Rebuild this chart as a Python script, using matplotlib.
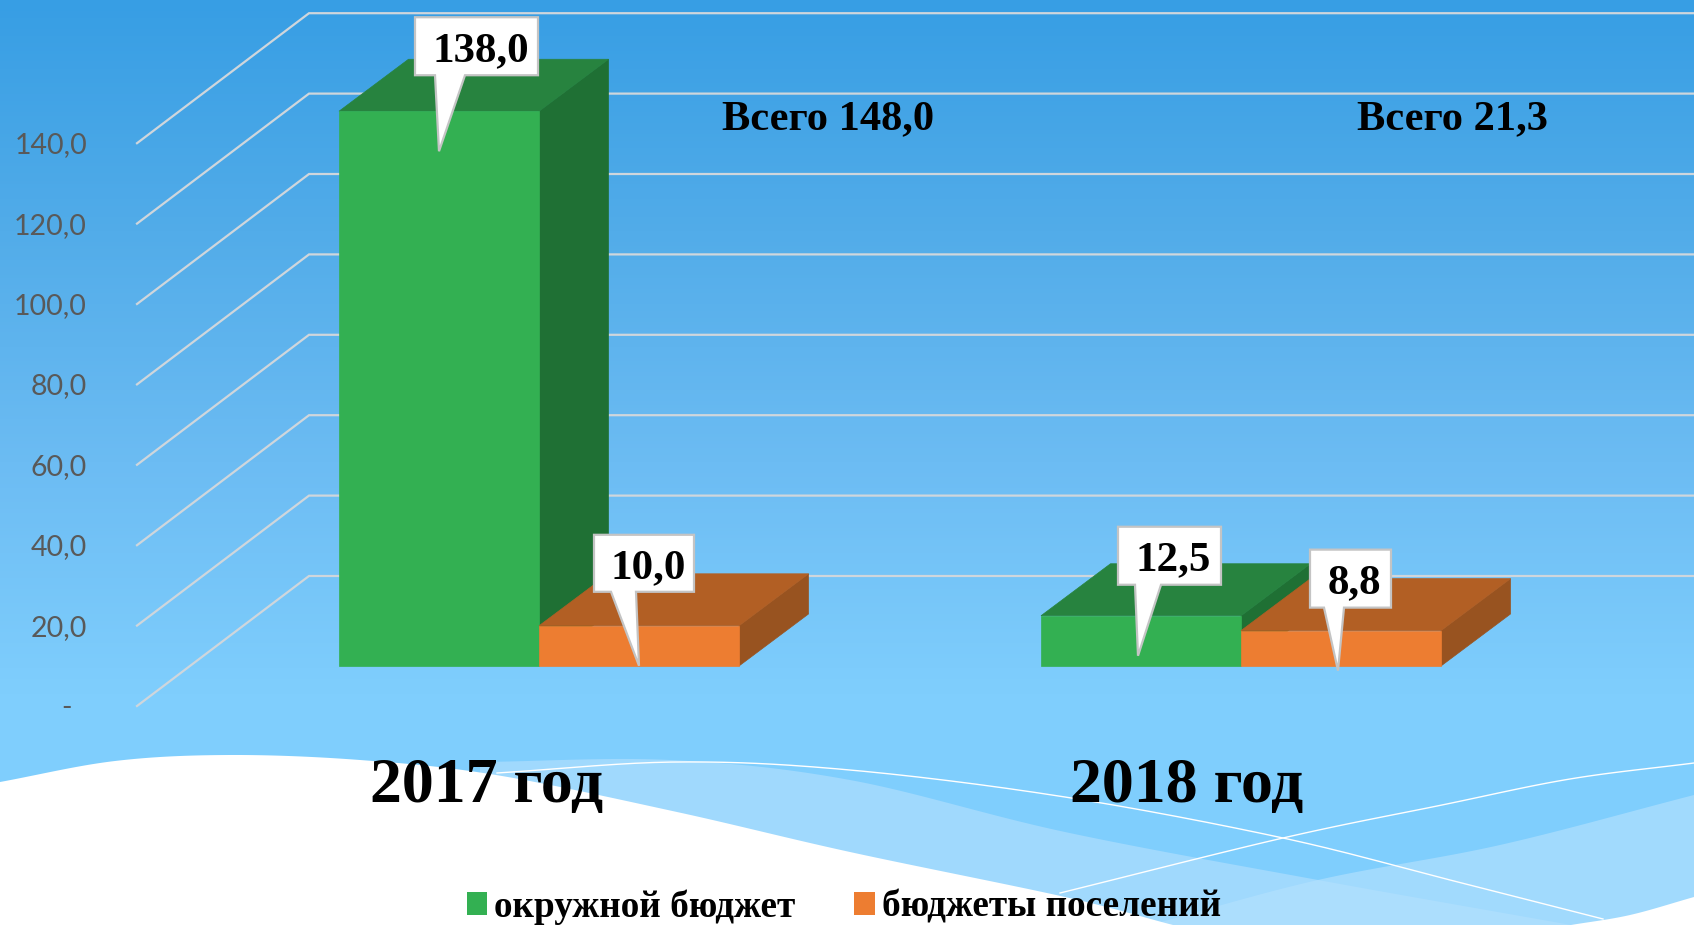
"""
Budget bars 2017/2018, drawn as a fake 3D column chart on a wavy slide background
"""
import numpy as np
import matplotlib
matplotlib.use("Agg")
import matplotlib.pyplot as plt
from matplotlib.colors import LinearSegmentedColormap
from matplotlib.patches import Patch, Polygon

# Data
YEARS = ["2017 год", "2018 год"]
SERIES = ["окружной бюджет", "бюджеты поселений"]
OKRUG = [138.0, 12.5]
POSEL = [10.0, 8.8]
OKRUG_LABELS = ["138,0", "12,5"]
POSEL_LABELS = ["10,0", "8,8"]
TOTALS = ["Всего 148,0", "Всего 21,3"]
TICKS = [0, 20, 40, 60, 80, 100, 120, 140]
TICK_LABELS = ["-", "20,0", "40,0", "60,0", "80,0", "100,0", "120,0", "140,0"]

# Layout, all in pixels of the 1694x925 picture
W, H = 1694, 925
CAT_STEP = 702  # px between categories
UNIT = 4.02  # px per value unit
CAT0_X = 539  # px of the first category centre
BASE_Y = 666  # px of the bars' front bottom edge
BAR_W = 200 / CAT_STEP
TOTAL_DX = [289, 211]  # px from category centre to the "Всего" text
YEAR_DX = [-52, -54]  # px from category centre to the year text

GREEN = ["#33b052", "#27833f", "#1f7034"]
ORANGE = ["#ed7d31", "#b25f24", "#985320"]
SERIF = "Liberation Serif"


def px_x(p):
    return p / CAT_STEP


def px_y(p):
    return p / UNIT


def bar3d(ax, x0, x1, v, colors, z):
    """ front, top and side face of one bar """
    dx, dy = px_x(69.5), px_y(52)
    ax.add_patch(Polygon([(x1, 0), (x1 + dx, dy), (x1 + dx, v + dy), (x1, v)],
                         fc=colors[2], ec=colors[2], lw=0.5, zorder=z))
    ax.add_patch(Polygon([(x0, v), (x1, v), (x1 + dx, v + dy), (x0 + dx, v + dy)],
                         fc=colors[1], ec=colors[1], lw=0.5, zorder=z))
    ax.add_patch(Polygon([(x0, 0), (x1, 0), (x1, v), (x0, v)],
                         fc=colors[0], ec=colors[0], lw=0.5, zorder=z))


def callout(ax, x, v, text, box):
    """ white label with a spike, box = left, right, tail1, tail2, bottom, top in px from the tip """
    left, right, t1, t2, bottom, top = box
    tip = (x, v - px_y(40))
    pts = [(left, top), (right, top), (right, bottom), (t2, bottom), (0, 0), (t1, bottom), (left, bottom)]
    pts = [(tip[0] + px_x(a), tip[1] + px_y(b)) for a, b in pts]
    ax.add_patch(Polygon(pts, fc="white", ec="#c4c4c4", lw=1.6, zorder=10))
    ax.text(tip[0] + px_x((left + right) / 2 + 4), tip[1] + px_y((top + bottom) / 2), text,
            family=SERIF, weight="bold", fontsize=31, ha="center", va="center_baseline", zorder=11)


def smooth(points, n=30):
    """ Catmull-Rom curve through the given points """
    p = np.array(points, dtype=float)
    p = np.vstack([2 * p[0] - p[1], p, 2 * p[-1] - p[-2]])
    out = []
    for i in range(1, len(p) - 2):
        for t in np.linspace(0, 1, n, endpoint=False):
            out.append(0.5 * (2 * p[i] + (p[i + 1] - p[i - 1]) * t
                              + (2 * p[i - 1] - 5 * p[i] + 4 * p[i + 1] - p[i + 2]) * t**2
                              + (3 * p[i] - p[i - 1] - 3 * p[i + 1] + p[i + 2]) * t**3))
    out.append(p[-2])
    return np.array(out)


def background(fig):
    bg = fig.add_axes([0, 0, 1, 1], zorder=0)
    bg.set_xlim(0, W)
    bg.set_ylim(H, 0)
    bg.axis("off")

    cmap = LinearSegmentedColormap.from_list("sky", ["#379ee4", "#52ace9", "#6cbcf3", "#7fcefd", "#7fcefd"])
    grad = np.linspace(0, 1, 256).reshape(-1, 1)
    bg.imshow(grad, cmap=cmap, extent=(0, W, H, 0), aspect="auto", zorder=0)

    # light swooshes
    band1 = smooth([(480, 762), (670, 760), (850, 780), (1065, 832), (1318, 880), (1571, 925)])
    bg.add_patch(Polygon(np.vstack([band1, [(480, 925)]]), fc="#a0d9fd", ec="none", zorder=1))
    band2 = smooth([(1150, 925), (1318, 880), (1500, 845), (1694, 795)])
    bg.add_patch(Polygon(np.vstack([band2, [(W, H)]]), fc="#b4e1fd", ec="none", alpha=0.65, zorder=2))

    # white ground
    edge = smooth([(0, 782), (115, 761), (230, 755), (360, 760), (496, 775), (677, 812),
                   (850, 852), (1065, 897), (1173, 925)])
    bg.add_patch(Polygon(np.vstack([edge, [(0, H)]]), fc="white", ec="none", zorder=3))
    corner = smooth([(1571, 925), (1630, 915), (1694, 897)])
    bg.add_patch(Polygon(np.vstack([corner, [(W, H)]]), fc="white", ec="none", zorder=3))

    # thin white lines
    line1 = smooth([(497, 773), (677, 762), (850, 770), (1065, 797), (1283, 838), (1450, 880), (1603, 919)])
    line2 = smooth([(1060, 893), (1283, 838), (1442, 805), (1570, 779), (1694, 763)])
    bg.plot(line1[:, 0], line1[:, 1], color="white", lw=1.0, zorder=4)
    bg.plot(line2[:, 0], line2[:, 1], color="white", lw=1.0, zorder=4)


fig = plt.figure(figsize=(W / 100, H / 100), dpi=100)
background(fig)

ax = fig.add_axes([0, 0, 1, 1], zorder=1)
ax.set_xlim(px_x(-CAT0_X), px_x(W - CAT0_X))
ax.set_ylim(px_y(BASE_Y - H), px_y(BASE_Y))
ax.axis("off")

# grid: the floor goes from the front left corner to the back wall
wall_x0 = px_x(137 - CAT0_X)
wall_x1 = px_x(309 - CAT0_X)
wall_end = px_x(W - CAT0_X)
front = px_y(-40)
back = px_y(90)
for tick, label in zip(TICKS, TICK_LABELS):
    ax.plot([wall_x0, wall_x1, wall_end], [tick + front, tick + back, tick + back],
            color="#cfd6dc", lw=1.6, zorder=2, solid_joinstyle="miter")
    lx = px_x(72 - CAT0_X) if label == "-" else px_x(87 - CAT0_X)
    ax.text(lx, tick + front - px_y(2), label, family="Lato", fontsize=20.5, color="#595959",
            ha="right", va="center")

for i, year in enumerate(YEARS):
    bar3d(ax, i - BAR_W, i, OKRUG[i], GREEN, 3 + i)
    bar3d(ax, i, i + BAR_W, POSEL[i], ORANGE, 3 + i)
    ax.text(i + px_x(YEAR_DX[i]), px_y(BASE_Y - 787), year, family=SERIF, weight="bold", fontsize=46,
            ha="center", va="center")
    ax.text(i + px_x(TOTAL_DX[i]), px_y(BASE_Y - 119), TOTALS[i], family=SERIF, weight="bold", fontsize=30.6,
            ha="center", va="center")

callout(ax, -BAR_W / 2, OKRUG[0], OKRUG_LABELS[0], (-24, 99, -4, 26, 76, 134))
callout(ax, BAR_W / 2, POSEL[0], POSEL_LABELS[0], (-45, 55, -28, -3, 74, 131))
callout(ax, 1 - BAR_W / 2 - px_x(3), OKRUG[1], OKRUG_LABELS[1], (-20, 83, -3, 23, 71, 129))
callout(ax, 1 + BAR_W / 2 - px_x(3), POSEL[1], POSEL_LABELS[1], (-28, 53, -14, 6, 63, 121))

handles = [Patch(fc=GREEN[0], ec="none"), Patch(fc=ORANGE[0], ec="none")]
leg = ax.legend(handles, SERIES, ncol=2, frameon=False, loc="center", bbox_to_anchor=(844 / W, 1 - 907 / H),
                prop={"family": SERIF, "weight": "bold", "size": 26.8},
                handlelength=0.55, handleheight=0.55, handletextpad=0.19, columnspacing=1.58, borderpad=0)

fig.savefig("out.png", dpi=100)
